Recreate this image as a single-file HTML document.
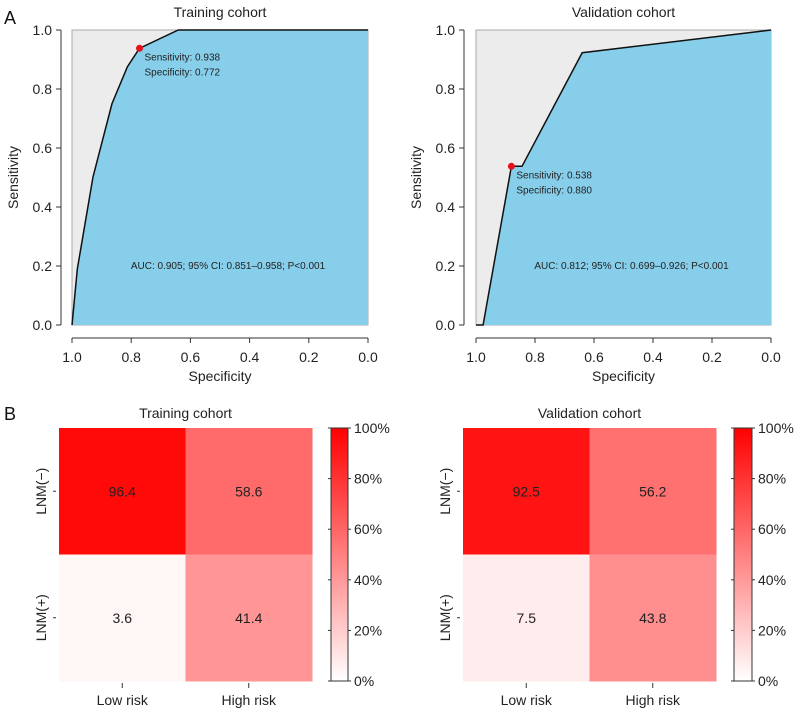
<!DOCTYPE html>
<html><head><meta charset="utf-8"><style>
html,body{margin:0;padding:0;background:#fff;}
svg{display:block;font-family:"Liberation Sans",Arial,sans-serif;}
</style></head><body>
<svg id="fig" width="798" height="712" viewBox="0 0 798 712" xmlns="http://www.w3.org/2000/svg"></svg>
<script>
// ROC data (specificity, sensitivity)
const trainSpec = [1.0, 0.982, 0.929, 0.865, 0.813, 0.772, 0.641, 0.0];
const trainSens = [0.0, 0.19, 0.502, 0.75, 0.875, 0.938, 1.0, 1.0];
const validSpec = [1.0, 0.976, 0.880, 0.844, 0.640, 0.0];
const validSens = [0.0, 0.0, 0.538, 0.538, 0.923, 1.0];
const rocTicks = [0, 0.2, 0.4, 0.6, 0.8, 1.0];
const rocTickLabels = ["0.0","0.2","0.4","0.6","0.8","1.0"];
// Heatmap data
const hmRows = ["LNM(\u2212)", "LNM(+)"];
const hmCols = ["Low risk", "High risk"];
const trainHm = [[96.4, 58.6],[3.6, 41.4]];
const validHm = [[92.5, 56.2],[7.5, 43.8]];
const cbTicks = [0,20,40,60,80,100];

const svg = document.getElementById('fig');
const NS = 'http://www.w3.org/2000/svg';
function mk(tag, attrs, parent, text){
  const e = document.createElementNS(NS, tag);
  for (const k in attrs) e.setAttribute(k, attrs[k]);
  if (text !== undefined) e.textContent = text;
  (parent||svg).appendChild(e);
  return e;
}

function roc(L, R, yaxX, spec, sens, best, title, auc, name){
  const T = 30, B = 325;
  const g = mk('g', {});
  
  
  const sx = s => L + (1 - s) * (R - L);
  const sy = v => B - v * (B - T);
  mk('rect', {x:L, y:T, width:R-L, height:B-T, fill:'#ececec', stroke:'#aaa', 'stroke-width':1}, g);
  let d = `M${sx(spec[0])},${sy(0)}`;
  spec.forEach((s,i)=>{ d += ` L${sx(s)},${sy(sens[i])}`; });
  const area = mk('path', {d: d + ` L${sx(0)},${sy(0)} Z`, fill:'#87ceeb'}, g);
  
  
  let ld = '';
  spec.forEach((s,i)=>{ ld += (i?' L':'M') + sx(s) + ',' + sy(sens[i]); });
  const line = mk('path', {d: ld, fill:'none', stroke:'#111', 'stroke-width':1.5}, g);
  
  
  const pt = mk('circle', {cx:sx(spec[best]), cy:sy(sens[best]), r:3.5, fill:'#e8101a'}, g);
  
  
  mk('text', {x:sx(spec[best])+5, y:sy(sens[best])+12, 'font-size':10, fill:'#222'}, g, 'Sensitivity: ' + sens[best].toFixed(3));
  mk('text', {x:sx(spec[best])+5, y:sy(sens[best])+27, 'font-size':10, fill:'#222'}, g, 'Specificity: ' + spec[best].toFixed(3));
  mk('text', {x:(L+R)/2 + 8, y:sy(0.19), 'font-size':10, fill:'#222', 'text-anchor':'middle'}, g, auc);
  // y axis
  mk('line', {x1:yaxX, y1:T, x2:yaxX, y2:B, stroke:'#333'}, g);
  rocTicks.forEach((t,i)=>{
    mk('line', {x1:yaxX-5, y1:sy(t), x2:yaxX, y2:sy(t), stroke:'#333'}, g);
    mk('text', {x:yaxX-9, y:sy(t)+5, 'font-size':14, 'text-anchor':'end', fill:'#222'}, g, rocTickLabels[i]);
  });
  // x axis
  const xy = 338;
  mk('line', {x1:L, y1:xy, x2:R, y2:xy, stroke:'#333'}, g);
  rocTicks.forEach((t,i)=>{
    mk('line', {x1:sx(t), y1:xy, x2:sx(t), y2:xy+5, stroke:'#333'}, g);
    mk('text', {x:sx(t), y:362, 'font-size':14, 'text-anchor':'middle', fill:'#222'}, g, rocTickLabels[i]);
  });
  const xt = mk('text', {x:(L+R)/2, y:381, 'font-size':14, 'text-anchor':'middle', fill:'#222'}, g, 'Specificity');
  
  
  const yt = mk('text', {x:0, y:0, 'font-size':14, 'text-anchor':'middle', fill:'#222', transform:`translate(${yaxX-43},${(T+B)/2}) rotate(-90)`}, g, 'Sensitivity');
  
  
  const tt = mk('text', {x:(L+R)/2, y:17, 'font-size':14, 'text-anchor':'middle', fill:'#222'}, g, title);
  
  
}

function heat(L, R, cbL, cbR, vals, title, name){
  const T = 428, B = 681;
  const g = mk('g', {});
  
  
  const cw = (R-L)/hmCols.length, ch = (B-T)/hmRows.length;
  const col = v => { const c = Math.round(255*(1 - v/100)); return `rgb(255,${c},${c})`; };
  vals.forEach((row,r)=>row.forEach((v,c)=>{
    const cell = mk('rect', {x:L+c*cw, y:T+r*ch, width:cw+0.5, height:ch+0.5, fill:col(v)}, g);
    
    
    mk('text', {x:L+(c+0.5)*cw, y:T+(r+0.5)*ch+5, 'font-size':14, 'text-anchor':'middle', fill:'#222'}, g, v.toFixed(1));
  }));
  hmCols.forEach((c,i)=>{
    const x = L+(i+0.5)*cw;
    mk('line', {x1:x, y1:B+2, x2:x, y2:B+7, stroke:'#333'}, g);
    mk('text', {x:x, y:B+24, 'font-size':14, 'text-anchor':'middle', fill:'#222'}, g, c);
  });
  hmRows.forEach((r,i)=>{
    const y = T+(i+0.5)*ch;
    mk('line', {x1:L-6, y1:y, x2:L-3, y2:y, stroke:'#333'}, g);
    mk('text', {x:0, y:0, 'font-size':14, 'text-anchor':'middle', fill:'#222', transform:`translate(${L-13},${y}) rotate(-90)`}, g, r);
  });
  const tt = mk('text', {x:(L+R)/2, y:418, 'font-size':14, 'text-anchor':'middle', fill:'#222'}, g, title);
  
  
  // colorbar
  const gid = 'grad' + name;
  const defs = mk('defs', {}, g);
  const lg = mk('linearGradient', {id:gid, x1:0, y1:1, x2:0, y2:0}, defs);
  mk('stop', {offset:'0', 'stop-color':'#fff'}, lg);
  mk('stop', {offset:'1', 'stop-color':'#f00'}, lg);
  const cb = mk('rect', {x:cbL, y:T, width:cbR-cbL, height:B-T, fill:`url(#${gid})`, stroke:'#333'}, g);
  
  
  cbTicks.forEach(t=>{
    const y = B - t/100*(B-T);
    mk('line', {x1:cbR, y1:y, x2:cbR+3, y2:y, stroke:'#333'}, g);
    mk('line', {x1:cbL-3, y1:y, x2:cbL, y2:y, stroke:'#333'}, g);
    mk('text', {x:cbR+6, y:y+5, 'font-size':14, fill:'#222'}, g, t + '%');
  });
}

roc(72, 368, 61, trainSpec, trainSens, 5, 'Training cohort', 'AUC: 0.905; 95% CI: 0.851\u20130.958; P<0.001', 'roc-training');
roc(476, 771, 464, validSpec, validSens, 2, 'Validation cohort', 'AUC: 0.812; 95% CI: 0.699\u20130.926; P<0.001', 'roc-validation');
heat(59, 312, 331, 348, trainHm, 'Training cohort', 'heatmap-training');
heat(463, 716, 734, 752, validHm, 'Validation cohort', 'heatmap-validation');
const pa = mk('text', {x:4, y:24, 'font-size':18, fill:'#111'}, svg, 'A');


const pb = mk('text', {x:4, y:420, 'font-size':18, fill:'#111'}, svg, 'B');


</script>
</body></html>
